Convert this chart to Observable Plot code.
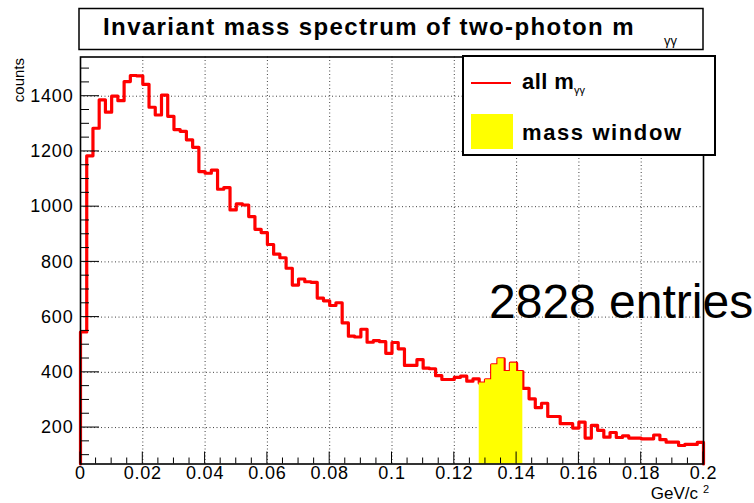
<!DOCTYPE html>
<html><head><meta charset="utf-8">
<script src="https://cdn.jsdelivr.net/npm/d3@7"></script>
<script src="https://cdn.jsdelivr.net/npm/@observablehq/plot@0.6"></script>
<style>
html,body{margin:0;padding:0;background:#fff;}
svg{font-family:"Liberation Sans",Arial,Helvetica,sans-serif;}
</style></head><body><div id="chart"></div>
<script>
// ---- data ----
const binStart = 0;
const binWidth = 0.002;
const counts = [
  546,1184,1284,1387,1342,1400,1384,1453,1475,1474,
  1443,1360,1332,1404,1327,1279,1273,1242,1215,1127,
  1121,1132,1063,1069,988,1010,1006,964,918,906,
  863,828,815,777,716,738,728,726,669,659,
  642,652,579,531,528,556,509,515,511,469,
  508,485,425,425,446,415,413,388,374,374,
  382,386,368,376,361,373,427,449,403,433,
  403,342,304,272,288,240,240,214,214,198,
  220,162,208,190,165,182,164,170,162,162,
  159,159,173,156,147,147,135,139,139,146
];
const windowFirstBin = 64;
const windowLastBin = 70;
const xTicks = [0,0.02,0.04,0.06,0.08,0.1,0.12,0.14,0.16,0.18,0.2];
const xMinorStep = 0.005;
const yTicks = [200,400,600,800,1000,1200,1400];
const yMinorStep = 50;
const yDomain = [68, 1542];
const xDomain = [0, 0.2];
const titleText = "Invariant mass spectrum of two-photon m";
const subText = "γγ";
const legendLine = "all m";
const legendBox = "mass window";
const entriesText = "2828 entries";
const yLabel = "counts";
const xLabel = "GeV/c";

// ---- derived ----
const yMin = yDomain[0];
const outline = [{x: xDomain[0], y: yMin}];
counts.forEach((c, i) => {
  outline.push({x: binStart + i*binWidth, y: c}, {x: binStart + (i+1)*binWidth, y: c});
});
outline.push({x: xDomain[1], y: yMin});
const windowPts = [];
for (let i = windowFirstBin; i <= windowLastBin; i++) {
  windowPts.push({x: binStart + i*binWidth, y: counts[i]}, {x: binStart + (i+1)*binWidth, y: counts[i]});
}
const xMinor = d3.range(0, 40.5).map(k => +(k*xMinorStep).toFixed(4)).filter(v => v <= xDomain[1]);
const yMinor = d3.range(100, yDomain[1], yMinorStep);
const fmtX = d => String(+d.toFixed(3));

const chart = Plot.plot({
  width: 754, height: 503,
  marginLeft: 80, marginRight: 51, marginTop: 56.5, marginBottom: 39.5,
  x: {domain: xDomain},
  y: {domain: yDomain},
  style: {fontFamily: '"Liberation Sans",Arial,sans-serif', background: "#fff"},
  marks: [
    Plot.gridX(xTicks.slice(1, -1), {stroke: "#000", strokeOpacity: 0.75, strokeDasharray: "1,2.5", strokeWidth: 1}),
    Plot.gridY(yTicks, {stroke: "#000", strokeOpacity: 0.75, strokeDasharray: "1,2.5", strokeWidth: 1}),
    Plot.line(outline, {x: "x", y: "y", stroke: "#ff0000", strokeWidth: 3.2, curve: "linear"}),
    Plot.areaY(windowPts, {x: "x", y1: yMin, y2: "y", fill: "#ffff00", curve: "linear"}),
    Plot.axisX(xTicks, {tickSize: 0, tickPadding: 2, fontSize: 18, tickFormat: fmtX, label: null, fill: "#000"}),
    Plot.axisY(yTicks, {tickSize: 0, tickPadding: 7, fontSize: 18, tickFormat: d3.format("d"), label: null, fill: "#000"}),
    Plot.frame({stroke: "#000", strokeWidth: 1.6})
  ]
});
document.getElementById("chart").appendChild(chart);
d3.select(chart).selectAll('[aria-label="x-axis tick label"] text, [aria-label="y-axis tick label"] text')
  .attr("letter-spacing", 0.8);

const sx = chart.scale("x"), sy = chart.scale("y");
const svg = d3.select(chart);
const pxLeft = sx.apply(xDomain[0]);
const pxBottom = sy.apply(yDomain[0]);

// ticks (inside frame, ROOT style)
const tg = svg.append("g").attr("stroke", "#000").attr("stroke-width", 1);
xMinor.forEach(v => {
  const major = xTicks.some(t => Math.abs(t - v) < 1e-9);
  const L = major ? 12 : 6;
  tg.append("line").attr("x1", sx.apply(v)).attr("x2", sx.apply(v)).attr("y1", pxBottom).attr("y2", pxBottom - L);
});
yMinor.forEach(v => {
  const major = yTicks.includes(v);
  const L = major ? 19 : 9;
  tg.append("line").attr("x1", pxLeft).attr("x2", pxLeft + L).attr("y1", sy.apply(v)).attr("y2", sy.apply(v));
});

const txt = (x, y, size, s, bold, anchor, ls) => svg.append("text").attr("x", x).attr("y", y)
  .attr("font-size", size).attr("font-weight", bold ? "bold" : "normal")
  .attr("letter-spacing", ls || 0)
  .attr("text-anchor", anchor || "start").attr("fill", "#000").text(s);

// title box
svg.append("rect").attr("x", 79).attr("y", 8.5).attr("width", 624).attr("height", 41)
  .attr("fill", "#fff").attr("stroke", "#000").attr("stroke-width", 1.5);
txt(103, 35, 24, titleText, true, "start", 1.4);
txt(664, 45, 13, subText, false);

// legend box
svg.append("rect").attr("x", 463).attr("y", 56).attr("width", 252).attr("height", 99)
  .attr("fill", "#fff").attr("stroke", "#000").attr("stroke-width", 2);
svg.append("line").attr("x1", 471).attr("x2", 511).attr("y1", 83).attr("y2", 83).attr("stroke", "#ff0000").attr("stroke-width", 2);
txt(522, 89, 22, legendLine, true, "start", 0.4);
txt(574, 94, 11, subText, false);
svg.append("rect").attr("x", 471).attr("y", 114).attr("width", 42).attr("height", 35).attr("fill", "#ffff00");
txt(522, 140, 22, legendBox, true, "start", 1.6);

// entries text
txt(489, 318, 48, entriesText, false);

// axis titles
svg.append("text").attr("transform", "translate(24,58) rotate(-90)").attr("text-anchor", "end")
  .attr("font-size", 15).attr("fill", "#000").text(yLabel);
txt(698, 499, 17, xLabel, false, "end");
txt(703, 493, 11, "2", false);
</script></body></html>
